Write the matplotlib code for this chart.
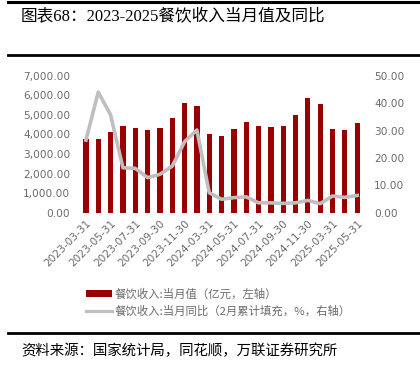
import numpy as np
import matplotlib
matplotlib.use("Agg")
import matplotlib.pyplot as plt
from matplotlib.lines import Line2D
from matplotlib.patches import Patch

plt.rcParams["font.family"] = ["Noto Sans CJK SC", "DejaVu Sans"]

dates = ["2023-03-31", "2023-04-30", "2023-05-31", "2023-06-30", "2023-07-31",
         "2023-08-31", "2023-09-30", "2023-10-31", "2023-11-30", "2023-12-31",
         "2024-03-31", "2024-04-30", "2024-05-31", "2024-06-30", "2024-07-31",
         "2024-08-31", "2024-09-30", "2024-10-31", "2024-11-30", "2024-12-31",
         "2025-03-31", "2025-04-30", "2025-05-31"]
# 餐饮收入 当月值（亿元）
revenue = [3750, 3780, 4124, 4430, 4312, 4240, 4328, 4840, 5605, 5452,
           4006, 3935, 4293, 4635, 4447, 4380, 4447, 4992, 5845, 5570,
           4260, 4208, 4600]
# 当月同比（%）
yoy = [26.5, 44.0, 35.7, 16.4, 16.2, 12.8, 14.0, 17.0, 25.9, 30.2,
       7.3, 4.9, 5.5, 5.8, 3.6, 3.6, 3.4, 3.6, 4.5, 3.3,
       6.1, 5.6, 6.3]

bar_color = "#990000"
line_color = "#BFBFBF"
tick_color = "#6b6b6b"

fig = plt.figure(figsize=(4.2, 3.67), dpi=100)
ax = fig.add_axes([0.187, 0.4204, 0.681, 0.3733])
ax2 = ax.twinx()

x = np.arange(len(dates))
ax.bar(x, revenue, width=0.43, color=bar_color, zorder=2)
ax2.plot(x, yoy, color=line_color, lw=2.6, zorder=3)

ax.set_xlim(-0.6, len(dates) - 0.4)
ax.set_ylim(0, 7000)
ax2.set_ylim(0, 50)
ax.set_yticks(np.arange(0, 7001, 1000))
ax.set_yticklabels([f"{v:,.2f}" for v in np.arange(0, 7001, 1000)])
ax2.set_yticks(np.arange(0, 51, 10))
ax2.set_yticklabels([f"{v:.2f}" for v in np.arange(0, 51, 10)])

ax.set_xticks(x[::2])
ax.set_xticklabels(dates[::2], rotation=45, ha="right", rotation_mode="anchor")

for a in (ax, ax2):
    for s in a.spines.values():
        s.set_visible(False)
    a.tick_params(length=0, colors=tick_color, labelsize=7.6)
    for lab in a.get_yticklabels() + a.get_xticklabels():
        lab.set_family("DejaVu Sans")
ax.tick_params(axis="y", pad=6)
ax2.tick_params(axis="y", pad=7)
ax.tick_params(axis="x", pad=4)
ax.set_zorder(ax2.get_zorder() - 1)
ax2.patch.set_visible(False)

handles = [Patch(facecolor=bar_color, edgecolor="none"),
           Line2D([], [], color=line_color, lw=2.3)]
labels = ["餐饮收入:当月值（亿元，左轴）", "餐饮收入:当月同比（2月累计填充，%，右轴）"]
leg = fig.legend(handles, labels, loc="upper left", bbox_to_anchor=(0.195, 0.228),
                 frameon=False, fontsize=8.2, handlelength=2.2, handleheight=0.5,
                 handletextpad=0.3, labelspacing=0.55, borderaxespad=0)
for t in leg.get_texts():
    t.set_color(tick_color)

# header / footer rules
for yy, lw in [(0.995, 2.2), (0.850, 2.0), (0.093, 2.0)]:
    fig.add_artist(Line2D([0.02, 1.0], [yy, yy], color="black", lw=lw,
                          transform=fig.transFigure))

fig.text(0.048, 0.953, "图表68：2023-2025餐饮收入当月值及同比", fontsize=12,
         family=["Liberation Serif", "Noto Sans CJK SC"], va="center", ha="left")
fig.text(0.05, 0.045, "资料来源：国家统计局，同花顺，万联证券研究所", fontsize=10.4,
         style="italic", va="center", ha="left")

fig.savefig("out.png", dpi=100)
